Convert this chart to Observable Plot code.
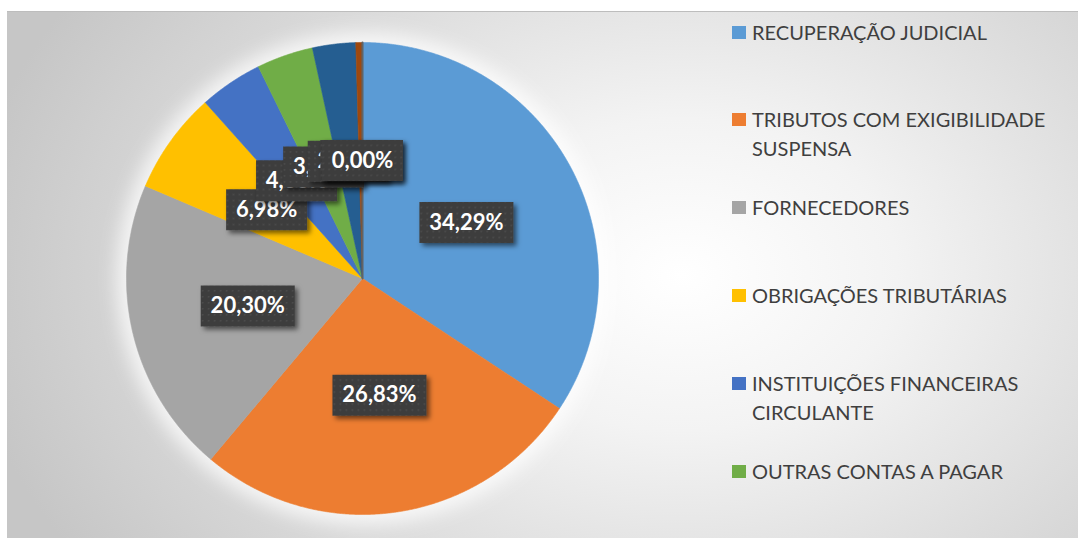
<!DOCTYPE html>
<html><head><meta charset="utf-8">
<script src="https://cdn.jsdelivr.net/npm/d3@7"></script>
<script src="https://cdn.jsdelivr.net/npm/@observablehq/plot@0.6"></script>
<style>
html,body{margin:0;padding:0;background:#fff;}
#wrap{position:relative;width:1081px;height:538px;overflow:hidden;font-family:Lato,"Open Sans",sans-serif;}
#bg{position:absolute;left:7px;top:11px;width:1071px;height:527px;
  background:radial-gradient(ellipse 720px 520px at 63% 50%, #ffffff 0%, #f3f3f3 30%, #dedede 62%, #c6c6c6 100%);
  border-top:1px solid #bdbdbd;box-sizing:border-box;}
#chart{position:absolute;left:0;top:0;}
#legend{position:absolute;left:0;top:0;width:1081px;height:538px;pointer-events:none;}
.item{position:absolute;left:732px;font-size:20px;line-height:29px;color:#3f3f3f;white-space:nowrap;}
.sw{position:absolute;left:0;width:14px;height:13px;top:8px;}
.tx{position:absolute;left:20px;top:0;}
</style></head>
<body><div id="wrap"><div id="bg"></div><div id="chart"></div><div id="legend"></div></div>
<script>
const categories = ["RECUPERAÇÃO JUDICIAL","TRIBUTOS COM EXIGIBILIDADE SUSPENSA","FORNECEDORES","OBRIGAÇÕES TRIBUTÁRIAS","INSTITUIÇÕES FINANCEIRAS CIRCULANTE","OUTRAS CONTAS A PAGAR","CATEGORIA 7","CATEGORIA 8","CATEGORIA 9"];
const shares = [34.29, 26.83, 20.30, 6.98, 4.33, 3.87, 2.95, 0.45, 0.004];
const colors = ["#5B9BD5","#ED7D31","#A5A5A5","#FFC000","#4472C4","#70AD47","#255E91","#9E480E","#636363"];
const legendLines = [["RECUPERAÇÃO JUDICIAL"],["TRIBUTOS COM EXIGIBILIDADE","SUSPENSA"],["FORNECEDORES"],["OBRIGAÇÕES TRIBUTÁRIAS"],["INSTITUIÇÕES FINANCEIRAS","CIRCULANTE"],["OUTRAS CONTAS A PAGAR"]];

const data = categories.map((name, i) => ({name, value: shares[i]}));
const fmt = v => v.toFixed(2).replace(".", ",") + "%";

const arcs = d3.pie().sort(null).value(d => d.value)(data);
const slicePts = arcs.flatMap(a => {
  const n = Math.max(2, Math.ceil((a.endAngle - a.startAngle) / 0.004));
  const pts = [{name: a.data.name, x: 0, y: 0}];
  for (let i = 0; i <= n; i++) {
    const t = a.startAngle + (a.endAngle - a.startAngle) * i / n;
    pts.push({name: a.data.name, x: Math.sin(t), y: Math.cos(t)});
  }
  pts.push({name: a.data.name, x: 0, y: 0});
  return pts;
});

const labels = arcs.map(a => {
  const m = (a.startAngle + a.endAngle) / 2;
  return {name: a.data.name, x: 0.5 * Math.sin(m), y: 0.5 * Math.cos(m), text: fmt(a.data.value)};
});

const ctx = document.createElement("canvas").getContext("2d");
ctx.font = "bold 22px Lato";
const boxSymbol = (w, h) => ({draw(c) { c.moveTo(-w/2, -h/2); c.lineTo(w/2, -h/2); c.lineTo(w/2, h/2); c.lineTo(-w/2, h/2); c.closePath(); }});

const labelMarks = labels.flatMap(l => {
  const w = Math.round(ctx.measureText(l.text).width + 20);
  return [
    Plot.dot([l], {x: "x", y: "y", r: 10, symbol: boxSymbol(w, 41), fill: "#404040", stroke: "none"}),
    Plot.text([l], {x: "x", y: "y", text: "text", fill: "white", fontSize: 22, fontWeight: "bold", fontFamily: "Lato"})
  ];
});

const chart = Plot.plot({
  width: 1081, height: 538,
  marginLeft: 126, marginRight: 483, marginTop: 42, marginBottom: 24,
  x: {domain: [-1, 1], axis: null},
  y: {domain: [-1, 1], axis: null},
  color: {domain: categories, range: colors},
  style: {background: "transparent", overflow: "visible"},
  marks: [
    Plot.dot([{x: 0, y: 0}], {x: "x", y: "y", r: 246, fill: "white", fillOpacity: 0.75, stroke: "none"}),
    Plot.line(slicePts, {x: "x", y: "y", z: "name", fill: "name", stroke: "name", strokeWidth: 0.6, curve: "linear"}),
    Plot.line(slicePts.filter(d => d.name === categories[8]), {x: "x", y: "y", stroke: "name", strokeWidth: 2}),
    ...labelMarks
  ]
});
document.getElementById("chart").appendChild(chart);

const svg = d3.select(chart);
const defs = svg.insert("defs", ":first-child");
const f = defs.append("filter").attr("id", "sh").attr("x", "-30%").attr("y", "-40%").attr("width", "170%").attr("height", "190%");
f.append("feDropShadow").attr("dx", 3).attr("dy", 3).attr("stdDeviation", 2.5).attr("flood-color", "#000").attr("flood-opacity", 0.55);
const g = defs.append("filter").attr("id", "glow").attr("x", "-20%").attr("y", "-20%").attr("width", "140%").attr("height", "140%");
g.append("feGaussianBlur").attr("stdDeviation", 9);
const p = defs.append("pattern").attr("id", "dots").attr("width", 6).attr("height", 6).attr("patternUnits", "userSpaceOnUse");
p.append("rect").attr("width", 6).attr("height", 6).attr("fill", "#3d3d3d");
p.append("rect").attr("x", 2).attr("y", 2).attr("width", 1.6).attr("height", 1.6).attr("fill", "#4d4d4d");
const dotGroups = svg.selectAll('g[aria-label="dot"]');
dotGroups.filter((d, i) => i === 0).selectAll("path, circle").attr("filter", "url(#glow)");
dotGroups.filter((d, i) => i > 0).selectAll("path").attr("fill", "url(#dots)").attr("filter", "url(#sh)");

const leg = d3.select("#legend");
legendLines.forEach((lines, i) => {
  const top = 32 + i * 87.8 - 14.5;
  const it = leg.append("div").attr("class", "item").style("top", top + "px");
  it.append("div").attr("class", "sw").style("background", colors[i]);
  it.append("div").attr("class", "tx").html(lines.join("<br>"));
});
</script></body></html>
